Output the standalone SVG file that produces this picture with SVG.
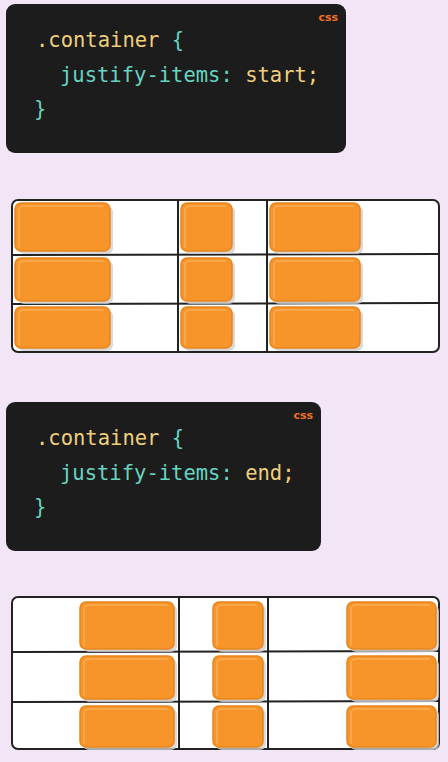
<svg xmlns="http://www.w3.org/2000/svg" width="448" height="762" viewBox="0 0 448 762">
<defs>
<style>
.code{fill:#1c1c1c}
.mono{font-family:"DejaVu Sans Mono","Liberation Mono",monospace;font-size:20.5px}
.y{fill:#f1cf7d}
.t{fill:#66d5c2}
.lang{font-family:"DejaVu Sans","Liberation Sans",sans-serif;font-size:11px;font-weight:bold;fill:#f26e22}
.frame{fill:#ffffff;stroke:#222;stroke-width:2}
.gl{stroke:#222;stroke-width:2;fill:none}
.sh{fill:#cfcfcf;opacity:0.8}
.box{fill:#f7952b;stroke:#e8851c;stroke-width:1.5}
.hl{fill:none;stroke:#fbb460;stroke-width:1.5;opacity:0.8}
</style>
</defs>
<rect width="448" height="762" fill="#f2e5f5"/>

<g id="code1">
<rect class="code" x="6" y="4" width="340" height="149" rx="9"/>
<text class="lang" x="338" y="21" text-anchor="end">css</text>
<text class="mono" x="36" y="47"><tspan class="y">.container </tspan><tspan class="t">{</tspan></text>
<text class="mono" x="60" y="82"><tspan class="t">justify-items: </tspan><tspan class="y">start;</tspan></text>
<text class="mono t" x="34" y="116">}</text>
</g>

<g id="grid1">
<rect class="frame" x="12" y="200" width="427" height="152" rx="6"/>
<g class="gl">
<line x1="12" y1="255" x2="439" y2="254"/>
<line x1="12" y1="304" x2="439" y2="303"/>
<line x1="178" y1="200" x2="178" y2="352"/>
<line x1="267" y1="200" x2="267" y2="352"/>
</g>
<g id="g1-items">
<g><rect class="sh" x="18" y="206" width="95" height="48" rx="6"/><rect class="box" x="15" y="203" width="95" height="48" rx="6"/><path class="hl" d="M19 248 V210 Q19 206 24 206 H104"/></g>
<g><rect class="sh" x="184" y="206" width="51" height="48" rx="6"/><rect class="box" x="181" y="203" width="51" height="48" rx="6"/><path class="hl" d="M185 248 V210 Q185 206 190 206 H226"/></g>
<g><rect class="sh" x="273" y="206" width="90" height="48" rx="6"/><rect class="box" x="270" y="203" width="90" height="48" rx="6"/><path class="hl" d="M274 248 V210 Q274 206 279 206 H354"/></g>
<g><rect class="sh" x="18" y="261" width="95" height="43" rx="6"/><rect class="box" x="15" y="258" width="95" height="43" rx="6"/><path class="hl" d="M19 298 V265 Q19 261 24 261 H104"/></g>
<g><rect class="sh" x="184" y="261" width="51" height="43" rx="6"/><rect class="box" x="181" y="258" width="51" height="43" rx="6"/><path class="hl" d="M185 298 V265 Q185 261 190 261 H226"/></g>
<g><rect class="sh" x="273" y="261" width="90" height="43" rx="6"/><rect class="box" x="270" y="258" width="90" height="43" rx="6"/><path class="hl" d="M274 298 V265 Q274 261 279 261 H354"/></g>
<g><rect class="sh" x="18" y="310" width="95" height="41" rx="6"/><rect class="box" x="15" y="307" width="95" height="41" rx="6"/><path class="hl" d="M19 345 V314 Q19 310 24 310 H104"/></g>
<g><rect class="sh" x="184" y="310" width="51" height="41" rx="6"/><rect class="box" x="181" y="307" width="51" height="41" rx="6"/><path class="hl" d="M185 345 V314 Q185 310 190 310 H226"/></g>
<g><rect class="sh" x="273" y="310" width="90" height="41" rx="6"/><rect class="box" x="270" y="307" width="90" height="41" rx="6"/><path class="hl" d="M274 345 V314 Q274 310 279 310 H354"/></g>
</g>
</g>

<g id="code2">
<rect class="code" x="6" y="402" width="315" height="149" rx="9"/>
<text class="lang" x="313" y="419" text-anchor="end">css</text>
<text class="mono" x="36" y="445"><tspan class="y">.container </tspan><tspan class="t">{</tspan></text>
<text class="mono" x="60" y="480"><tspan class="t">justify-items: </tspan><tspan class="y">end;</tspan></text>
<text class="mono t" x="34" y="514">}</text>
</g>

<g id="grid2">
<rect class="frame" x="12" y="597" width="427" height="152" rx="6"/>
<g class="gl">
<line x1="12" y1="652" x2="439" y2="651"/>
<line x1="12" y1="702" x2="439" y2="701"/>
<line x1="179" y1="597" x2="179" y2="749"/>
<line x1="268" y1="597" x2="268" y2="749"/>
</g>
<g id="g2-items">
<g><rect class="sh" x="83" y="605" width="94" height="47" rx="6"/><rect class="box" x="80" y="602" width="94" height="47" rx="6"/><path class="hl" d="M84 646 V609 Q84 605 89 605 H168"/></g>
<g><rect class="sh" x="216" y="605" width="50" height="47" rx="6"/><rect class="box" x="213" y="602" width="50" height="47" rx="6"/><path class="hl" d="M217 646 V609 Q217 605 222 605 H257"/></g>
<g><rect class="sh" x="350" y="605" width="89" height="47" rx="6"/><rect class="box" x="347" y="602" width="89" height="47" rx="6"/><path class="hl" d="M351 646 V609 Q351 605 356 605 H430"/></g>
<g><rect class="sh" x="83" y="659" width="94" height="43" rx="6"/><rect class="box" x="80" y="656" width="94" height="43" rx="6"/><path class="hl" d="M84 696 V663 Q84 659 89 659 H168"/></g>
<g><rect class="sh" x="216" y="659" width="50" height="43" rx="6"/><rect class="box" x="213" y="656" width="50" height="43" rx="6"/><path class="hl" d="M217 696 V663 Q217 659 222 659 H257"/></g>
<g><rect class="sh" x="350" y="659" width="89" height="43" rx="6"/><rect class="box" x="347" y="656" width="89" height="43" rx="6"/><path class="hl" d="M351 696 V663 Q351 659 356 659 H430"/></g>
<g><rect class="sh" x="83" y="709" width="94" height="41" rx="6"/><rect class="box" x="80" y="706" width="94" height="41" rx="6"/><path class="hl" d="M84 744 V713 Q84 709 89 709 H168"/></g>
<g><rect class="sh" x="216" y="709" width="50" height="41" rx="6"/><rect class="box" x="213" y="706" width="50" height="41" rx="6"/><path class="hl" d="M217 744 V713 Q217 709 222 709 H257"/></g>
<g><rect class="sh" x="350" y="709" width="89" height="41" rx="6"/><rect class="box" x="347" y="706" width="89" height="41" rx="6"/><path class="hl" d="M351 744 V713 Q351 709 356 709 H430"/></g>
</g>
</g>
</svg>
